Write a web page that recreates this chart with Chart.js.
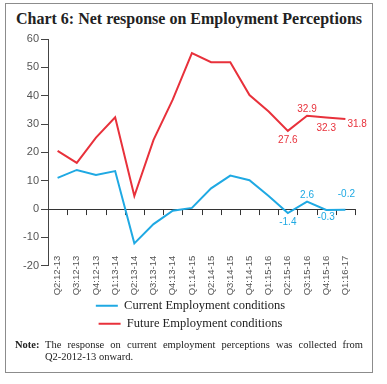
<!DOCTYPE html>
<html>
<head>
<meta charset="utf-8">
<script src="https://cdn.jsdelivr.net/npm/chart.js@4.4.1/dist/chart.umd.min.js"></script>
<style>
  html, body { margin:0; padding:0; background:#fff; width:387px; height:384px; overflow:hidden; }
  #frame { position:absolute; left:5px; top:3px; width:366px; height:368px; border:1.5px solid #8c8c8c; }
  #title { position:absolute; left:0; top:10px; width:378px; text-align:center;
           font-family:"Liberation Serif", serif; font-weight:bold; font-size:16px; color:#222; }
  #wrap { position:absolute; left:0; top:0; width:387px; height:340px; }
  #note { position:absolute; left:15px; top:339px; width:348px; display:flex;
          font-family:"Liberation Serif", serif; font-size:10.5px; line-height:12px; color:#222; }
  #note b { width:30px; flex:none; }
  #note span.t { text-align:justify; flex:1; }
  .nw { white-space:nowrap; }
</style>
</head>
<body>
<div id="frame"></div>
<div id="title">Chart 6: Net response on Employment Perceptions</div>
<div id="wrap"><canvas id="c" width="387" height="340"></canvas></div>
<div id="note"><b>Note:</b><span class="t">The response on current employment perceptions was collected from <span class="nw">Q2-2012-13 onward.</span></span></div>
<script>
const categories = ["Q2:12-13","Q3:12-13","Q4:12-13","Q1:13-14","Q2:13-14","Q3:13-14","Q4:13-14","Q1:14-15",
  "Q2:14-15","Q3:14-15","Q4:14-15","Q1:15-16","Q2:15-16","Q3:15-16","Q4:15-16","Q1:16-17"];
const currentEmployment = [11.0, 13.8, 12.0, 13.4, -12.1, -5.3, -0.6, 0.4, 7.3, 11.8, 10.2, 4.6, -1.4, 2.6, -0.3, -0.2];
const futureEmployment = [20.5, 16.3, 25.2, 32.4, 4.6, 24.4, 38.6, 55.0, 51.8, 51.8, 40.2, 34.4, 27.6, 32.9, 32.3, 31.8];
const yTicks = [60, 50, 40, 30, 20, 10, 0, -10, -20];
const seriesNames = ["Current Employment conditions", "Future Employment conditions"];
const blue = "#1fa9e3", red = "#e8313b";

// labels for last four points: [dx, dy, align]
const labelFirst = 12;
const blueOffsets = [[0, 9, "center"], [0, -6, "center"], [0, 7, "center"], [1, -15, "center"]];
const redOffsets = [[0, 9, "center"], [0, -7, "center"], [0, 11, "center"], [2, 5, "left"]];

const axisPlugin = {
  id: "axisPlugin",
  beforeDraw(chart) {
    Object.values(chart.scales).forEach(s => { s._computeLabelArea = () => null; });
  },
  beforeDatasetsDraw(chart) {
    const {ctx, chartArea, scales:{x, y}} = chart;
    const y0 = y.getPixelForValue(0);
    ctx.save();
    ctx.strokeStyle = "#333";
    ctx.lineWidth = 1;
    ctx.beginPath();
    ctx.moveTo(chartArea.left, Math.round(y0) + 0.5);
    ctx.lineTo(chartArea.right, Math.round(y0) + 0.5);
    for (let i = 0; i < categories.length; i++) {
      const p = i < categories.length - 1 ? (x.getPixelForValue(i) + x.getPixelForValue(i + 1)) / 2 : chartArea.right;
      const px = Math.round(p) + 0.5;
      ctx.moveTo(px, y0);
      ctx.lineTo(px, y0 + 6);
    }
    ctx.stroke();
    ctx.restore();
  },
  afterDatasetsDraw(chart) {
    const {ctx} = chart;
    ctx.save();
    ctx.font = "10px 'Liberation Sans', Arial, sans-serif";
    ctx.textBaseline = "middle";
    [[0, blue, blueOffsets], [1, red, redOffsets]].forEach(([di, col, offs]) => {
      const meta = chart.getDatasetMeta(di);
      const data = chart.data.datasets[di].data;
      ctx.fillStyle = col;
      for (let i = labelFirst; i < data.length; i++) {
        const pt = meta.data[i];
        const o = offs[i - labelFirst];
        ctx.textAlign = o[2];
        ctx.fillText(data[i].toFixed(1), pt.x + o[0], pt.y + o[1]);
      }
    });
    ctx.restore();
  }
};

new Chart(document.getElementById("c"), {
  type: "line",
  data: {
    labels: categories,
    datasets: [
      { label: seriesNames[0], data: currentEmployment, borderColor: blue, backgroundColor: blue,
        borderWidth: 2, pointRadius: 0, pointStyle: "line", tension: 0 },
      { label: seriesNames[1], data: futureEmployment, borderColor: red, backgroundColor: red,
        borderWidth: 2, pointRadius: 0, pointStyle: "line", tension: 0 }
    ]
  },
  options: {
    responsive: false,
    animation: false,
    layout: { padding: { left: 26, right: 32, top: 39, bottom: 0 } },
    plugins: {
      legend: {
        position: "bottom",
        labels: {
          usePointStyle: true, pointStyleWidth: 22, padding: 5.5,
          color: "#222",
          font: { family: "'Liberation Serif', serif", size: 12.5 }
        }
      },
      tooltip: { enabled: false }
    },
    scales: {
      x: {
        offset: true,
        grid: { display: false },
        border: { display: false },
        ticks: {
          minRotation: 90, maxRotation: 90, padding: -18, autoSkip: false,
          color: "#555", font: { family: "'Liberation Sans', Arial, sans-serif", size: 9.5 }
        },
        afterFit(s) { s.height = 28.25; }
      },
      y: {
        min: -20, max: 60,
        afterBuildTicks(s) { s.ticks = yTicks.map(v => ({ value: v })); },
        grid: { drawOnChartArea: false, tickLength: 7, color: "#444" },
        border: { color: "#444" },
        ticks: { padding: 2, color: "#555", font: { family: "'Liberation Sans', Arial, sans-serif", size: 11 } },
        afterFit(s) { s.width = 22; }
      }
    }
  },
  plugins: [axisPlugin]
});
</script>
</body>
</html>
